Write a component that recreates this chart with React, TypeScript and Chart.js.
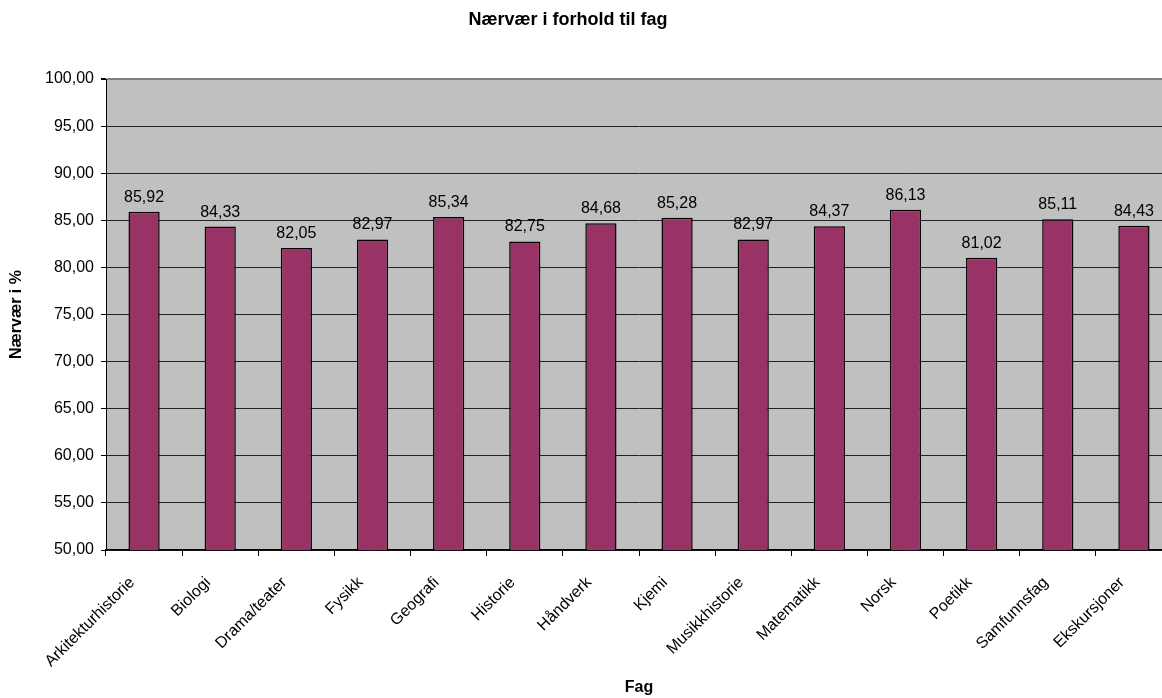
import React, { useEffect, useRef } from "react";
import { Chart, registerables } from "chart.js";

Chart.register(...registerables);

const subjects = [
  "Arkitekturhistorie",
  "Biologi",
  "Drama/teater",
  "Fysikk",
  "Geografi",
  "Historie",
  "Håndverk",
  "Kjemi",
  "Musikkhistorie",
  "Matematikk",
  "Norsk",
  "Poetikk",
  "Samfunnsfag",
  "Ekskursjoner",
];

const attendance = [
  85.92, 84.33, 82.05, 82.97, 85.34, 82.75, 84.68, 85.28, 82.97, 84.37, 86.13,
  81.02, 85.11, 84.43,
];

const chartTitle = "Nærvær i forhold til fag";
const yAxisTitle = "Nærvær i %";
const xAxisTitle = "Fag";

const FONT = '"Liberation Sans", Arial, sans-serif';

const fmt = (v: number) => v.toFixed(2).replace(".", ",");

const plotBackground = {
  id: "plotBackground",
  beforeDraw(chart: any) {
    const { ctx, chartArea } = chart;
    ctx.save();
    ctx.fillStyle = "#C0C0C0";
    ctx.fillRect(
      chartArea.left,
      chartArea.top,
      chartArea.right - chartArea.left,
      chartArea.bottom - chartArea.top
    );
    ctx.restore();
  },
};

const valueLabels = {
  id: "valueLabels",
  afterDatasetsDraw(chart: any) {
    const { ctx } = chart;
    const meta = chart.getDatasetMeta(0);
    const data = chart.data.datasets[0].data as number[];
    ctx.save();
    ctx.font = `16px ${FONT}`;
    ctx.fillStyle = "#000";
    ctx.textAlign = "center";
    ctx.textBaseline = "alphabetic";
    meta.data.forEach((bar: any, i: number) => {
      ctx.fillText(fmt(data[i]), bar.x, bar.y - 10);
    });
    ctx.restore();
  },
};

// Category names, slanted at 45° and hanging below the axis
const categoryLabels = {
  id: "categoryLabels",
  afterDraw(chart: any) {
    const { ctx } = chart;
    const xScale = chart.scales.x;
    ctx.save();
    ctx.font = `16px ${FONT}`;
    ctx.fillStyle = "#000";
    ctx.textAlign = "right";
    ctx.textBaseline = "middle";
    (chart.data.labels as string[]).forEach((label, i) => {
      const cx = xScale.getPixelForValue(i);
      ctx.save();
      ctx.translate(cx - 12, xScale.top + 30);
      ctx.rotate(-Math.PI / 4);
      ctx.fillText(label, 0, 0);
      ctx.restore();
    });
    ctx.restore();
  },
};

const titles = {
  id: "titles",
  afterDraw(chart: any) {
    const { ctx, chartArea } = chart;
    ctx.save();
    ctx.fillStyle = "#000";
    ctx.textAlign = "center";
    ctx.textBaseline = "middle";
    ctx.font = `bold 18px ${FONT}`;
    ctx.fillText(chartTitle, 568, 20);
    ctx.font = `bold 16px ${FONT}`;
    ctx.fillText(xAxisTitle, (chartArea.left + chartArea.right) / 2, 688);
    ctx.translate(17, (chartArea.top + chartArea.bottom) / 2);
    ctx.rotate(-Math.PI / 2);
    ctx.fillText(yAxisTitle, 0, 0);
    ctx.restore();
  },
};

export default function App() {
  const canvasRef = useRef<HTMLCanvasElement | null>(null);

  useEffect(() => {
    if (!canvasRef.current) return;
    const chart = new Chart(canvasRef.current, {
      type: "bar",
      data: {
        labels: subjects,
        datasets: [
          {
            data: attendance,
            backgroundColor: "#993366",
            borderColor: "#000",
            borderWidth: 1.5,
            barPercentage: 0.41,
            categoryPercentage: 1,
          },
        ],
      },
      options: {
        responsive: true,
        maintainAspectRatio: false,
        animation: false,
        layout: { padding: { top: 79, left: 0, right: 0, bottom: 0 } },
        plugins: {
          legend: { display: false },
          title: { display: false },
          tooltip: { enabled: false },
        },
        scales: {
          x: {
            afterFit(scale: any) {
              scale.height = 148;
            },
            grid: {
              offset: true,
              drawOnChartArea: false,
              tickLength: 6,
              tickColor: "#000",
            },
            border: { color: "#000", width: 1.5 },
            ticks: { display: false },
          },
          y: {
            min: 50,
            max: 100,
            afterFit(scale: any) {
              scale.width = 106;
            },
            grid: {
              color: (c: any) => (c.tick && c.tick.value === 100 ? "#808080" : "#222"),
              lineWidth: (c: any) => (c.tick && c.tick.value === 100 ? 2 : 1),
              tickLength: 5,
              tickColor: "#000",
            },
            border: { color: "#000", width: 1 },
            ticks: {
              stepSize: 5,
              padding: 7,
              color: "#000",
              font: { family: FONT, size: 16 },
              callback: (v: any) => fmt(Number(v)),
            },
          },
        },
      },
      plugins: [plotBackground, valueLabels, categoryLabels, titles],
    });
    return () => chart.destroy();
  }, []);

  return (
    <div
      style={{
        position: "fixed",
        left: 0,
        top: 0,
        width: 1162,
        height: 698,
        overflow: "hidden",
        background: "#fff",
      }}
    >
      <div style={{ position: "relative", width: 1172, height: 698 }}>
        <canvas ref={canvasRef} />
      </div>
    </div>
  );
}
